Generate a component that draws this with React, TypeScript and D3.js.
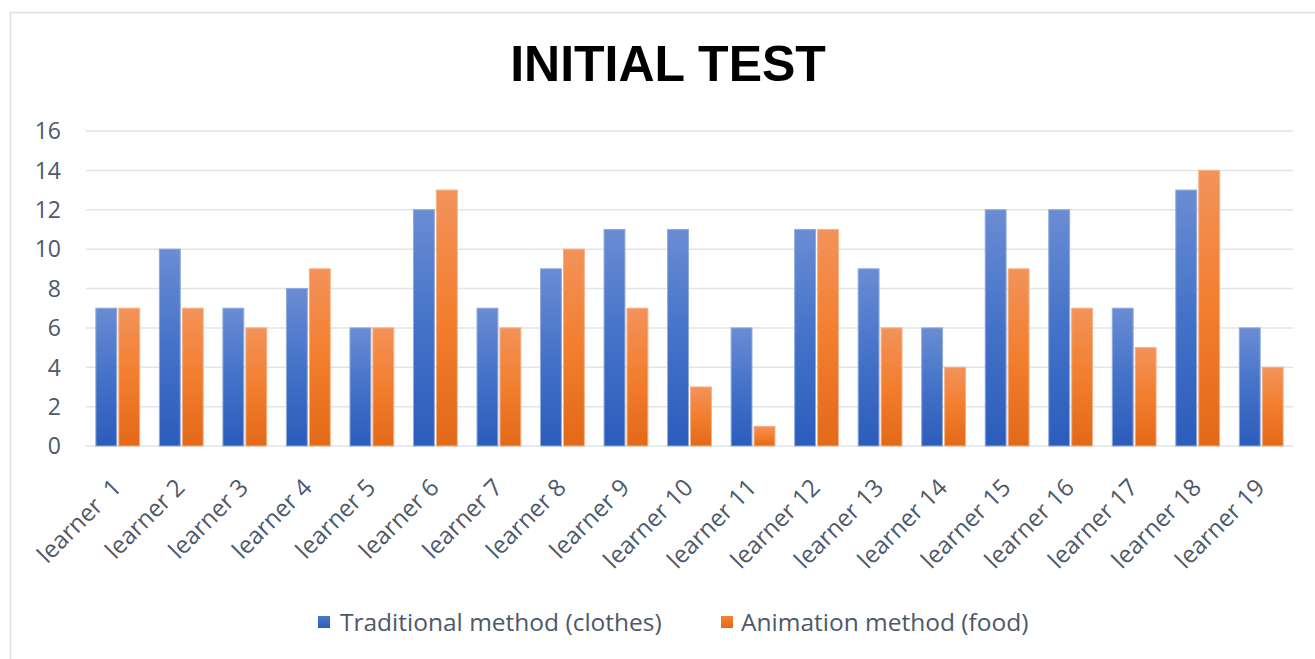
import React from "react";
import * as d3 from "d3";

const categories = [
  "learner  1", "learner 2", "learner 3", "learner 4", "learner 5", "learner 6", "learner 7",
  "learner 8", "learner 9", "learner 10", "learner 11", "learner 12", "learner 13", "learner 14",
  "learner 15", "learner 16", "learner 17", "learner 18", "learner 19",
];
const traditional = [7, 10, 7, 8, 6, 12, 7, 9, 11, 11, 6, 11, 9, 6, 12, 12, 7, 13, 6];
const animation = [7, 7, 6, 9, 6, 13, 6, 10, 7, 3, 1, 11, 6, 4, 9, 7, 5, 14, 4];
const seriesNames = ["Traditional method (clothes)", "Animation method (food)"];
const yTicks = [0, 2, 4, 6, 8, 10, 12, 14, 16];

const W = 1315;
const H = 659;
const FONT = "'Open Sans', 'Noto Sans', sans-serif";
const TEXT = "#4d586a";

export default function App() {
  const x = d3.scaleBand<string>().domain(categories).range([86, 1293]).paddingInner(0.31).paddingOuter(0.155);
  const xs = d3.scaleBand<number>().domain([0, 1]).range([0, x.bandwidth()]).paddingInner(0.09);
  const y = d3.scaleLinear().domain([0, 16]).range([446, 131]);
  const series = [traditional, animation];
  const fills = ["url(#gBlue)", "url(#gOrange)"];
  const strokes = ["#8faadc", "#f4b183"];

  return (
    <svg width={W} height={H} style={{ position: "absolute", left: 0, top: 0, background: "#fff" }}>
      <defs>
        <linearGradient id="gBlue" x1="0" y1="0" x2="0" y2="1">
          <stop offset="0" stopColor="#6a8cd4" />
          <stop offset="0.5" stopColor="#4472c8" />
          <stop offset="1" stopColor="#2c5cbc" />
        </linearGradient>
        <linearGradient id="gOrange" x1="0" y1="0" x2="0" y2="1">
          <stop offset="0" stopColor="#f2935a" />
          <stop offset="0.5" stopColor="#f27e2e" />
          <stop offset="1" stopColor="#e26918" />
        </linearGradient>
        <linearGradient id="gBlueL" x1="0" y1="0" x2="0" y2="1">
          <stop offset="0" stopColor="#4a78cc" />
          <stop offset="1" stopColor="#2c5cbc" />
        </linearGradient>
        <linearGradient id="gOrangeL" x1="0" y1="0" x2="0" y2="1">
          <stop offset="0" stopColor="#f58333" />
          <stop offset="1" stopColor="#e26918" />
        </linearGradient>
      </defs>
      <rect x={10.5} y={12.5} width={1330} height={670} fill="#fff" stroke="#dcdfe3" strokeWidth={1.5} />
      <text x={668} y={81} textAnchor="middle" fontFamily="'Liberation Sans', Arial, sans-serif" fontWeight="bold" fontSize={50} fill="#000">
        INITIAL TEST
      </text>
      {yTicks.map((t) => (
        <g key={t}>
          <line x1={86} x2={1293} y1={y(t)} y2={y(t)} stroke="#e1e4e8" strokeWidth={1.5} />
          <text x={61} y={y(t)} dy="0.36em" textAnchor="end" fontFamily={FONT} fontSize={23} fill={TEXT}>
            {t}
          </text>
        </g>
      ))}
      {categories.map((c, i) => (
        <g key={c} transform={`translate(${x(c)},0)`}>
          {series.map((s, k) => (
            <rect
              key={k}
              x={xs(k)}
              y={y(s[i])}
              width={xs.bandwidth()}
              height={y(0) - y(s[i])}
              fill={fills[k]}
              stroke={strokes[k]}
              strokeWidth={1}
            />
          ))}
        </g>
      ))}
      {categories.map((c) => {
        const cx = (x(c) as number) + x.bandwidth() / 2 + 5;
        return (
          <text
            key={c}
            transform={`translate(${cx},489) rotate(-45)`}
            textAnchor="end"
            fontFamily={FONT}
            fontSize={24}
            fill={TEXT}
            style={{ whiteSpace: "pre" }}
          >
            {c}
          </text>
        );
      })}
      <rect x={318} y={616} width={12} height={12} fill="url(#gBlueL)" />
      <text x={340} y={622} dy="0.36em" fontFamily={FONT} fontSize={24.5} fill={TEXT}>
        {seriesNames[0]}
      </text>
      <rect x={721} y={616} width={12} height={12} fill="url(#gOrangeL)" />
      <text x={741} y={622} dy="0.36em" fontFamily={FONT} fontSize={24.5} fill={TEXT}>
        {seriesNames[1]}
      </text>
    </svg>
  );
}
